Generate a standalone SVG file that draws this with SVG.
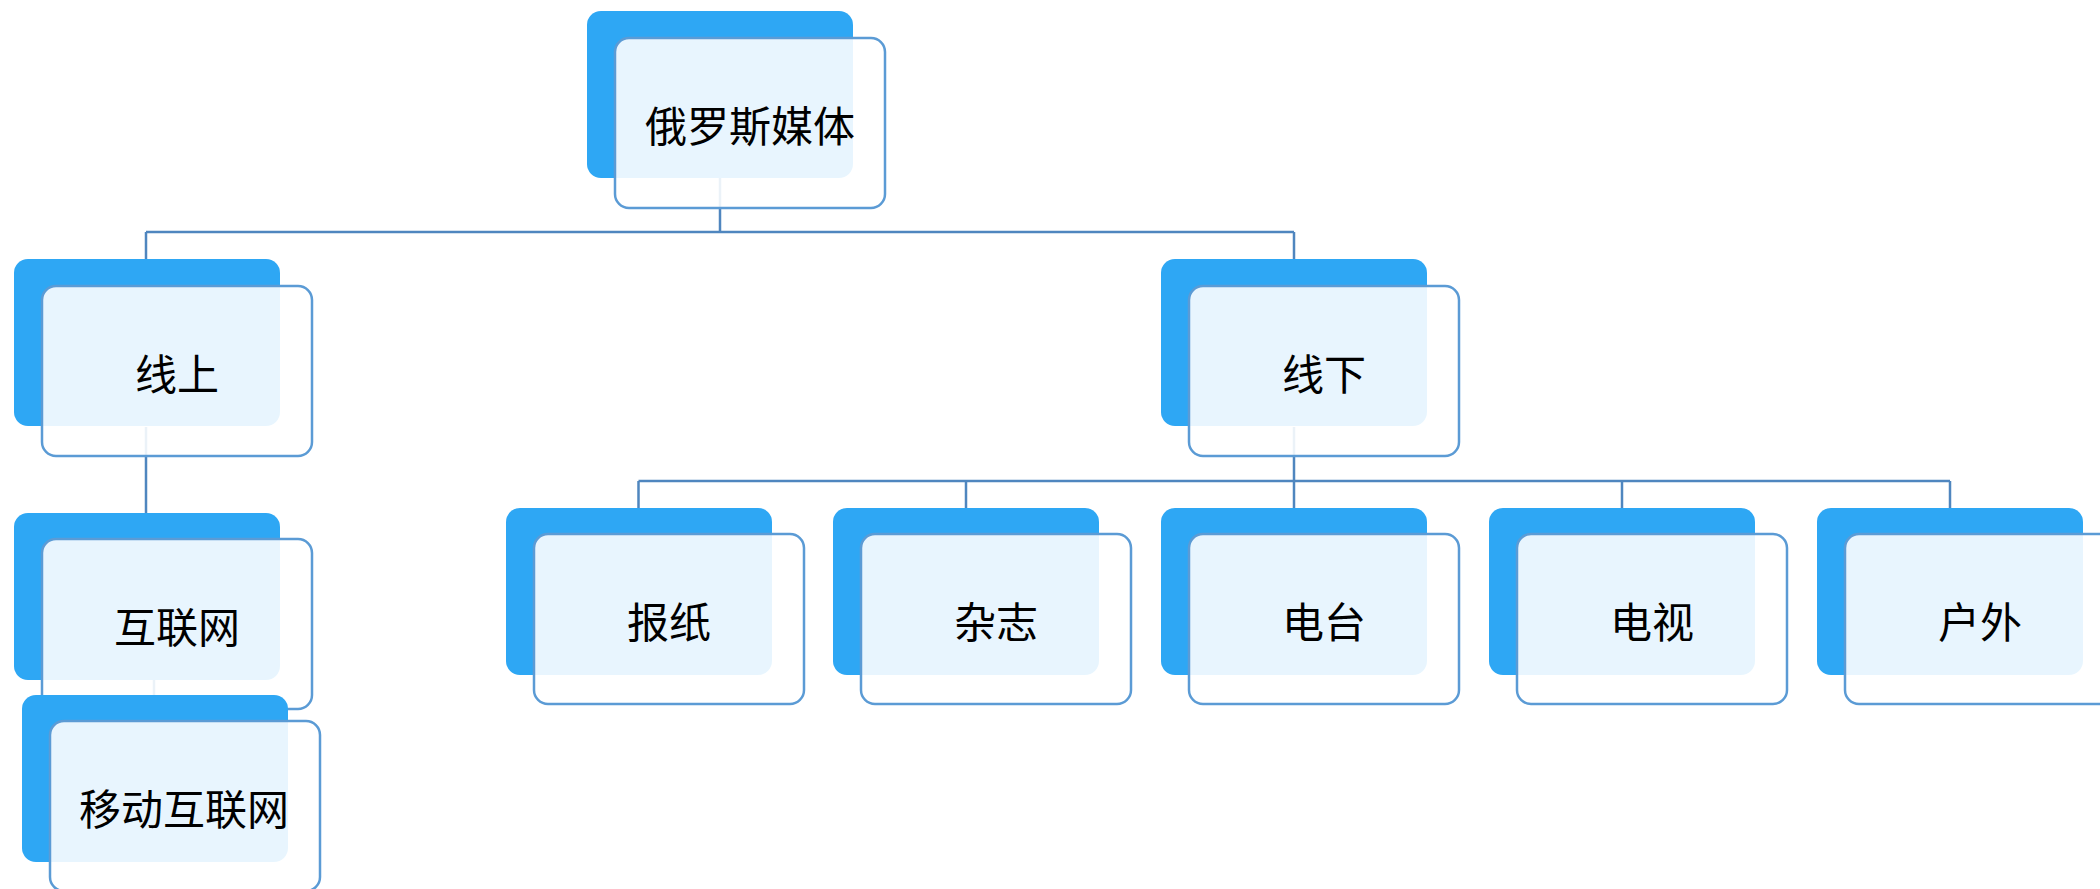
<svg xmlns="http://www.w3.org/2000/svg" width="2100" height="889" viewBox="0 0 2100 889">
<style>
.bg{fill:#2ea7f4}
.fr{fill:#ffffff;fill-opacity:0.89;stroke:#5b9bd5;stroke-width:2.5}
.t{font-family:"Noto Sans CJK SC","Microsoft YaHei",sans-serif;font-size:42px;fill:#000;text-anchor:middle;dominant-baseline:central}
.c{fill:none;stroke:#4f86bf;stroke-width:2.5}
</style>
<rect width="2100" height="889" fill="#ffffff"/>
<g id="connectors">
<path class="c" d="M720,178 V232 M146,232 H1294 M146,232 V259 M1294,232 V259"/>
<path class="c" d="M146,427 V513 M154,680 V695"/>
<path class="c" d="M1294,427 V481 M638.5,481 H1950 M638.5,481 V508 M966,481 V508 M1294,481 V508 M1622,481 V508 M1950,481 V508"/>
</g>
<g id="n-root"><rect class="bg" x="587" y="11" width="266" height="167" rx="14"/><rect class="fr" x="615" y="38" width="270" height="170" rx="14"/><text class="t" x="750" y="123">俄罗斯媒体</text></g>
<g id="n-online"><rect class="bg" x="14" y="259" width="266" height="167" rx="14"/><rect class="fr" x="42" y="286" width="270" height="170" rx="14"/><text class="t" x="177" y="371">线上</text></g>
<g id="n-offline"><rect class="bg" x="1161" y="259" width="266" height="167" rx="14"/><rect class="fr" x="1189" y="286" width="270" height="170" rx="14"/><text class="t" x="1324" y="371">线下</text></g>
<g id="n-internet"><rect class="bg" x="14" y="513" width="266" height="167" rx="14"/><rect class="fr" x="42" y="539" width="270" height="170" rx="14"/><text class="t" x="177" y="624">互联网</text></g>
<g id="n-mobile"><rect class="bg" x="22" y="695" width="266" height="167" rx="14"/><rect class="fr" x="50" y="721" width="270" height="170" rx="14"/><text class="t" x="184" y="806">移动互联网</text></g>
<g id="n-newspaper"><rect class="bg" x="506" y="508" width="266" height="167" rx="14"/><rect class="fr" x="534" y="534" width="270" height="170" rx="14"/><text class="t" x="669" y="619">报纸</text></g>
<g id="n-magazine"><rect class="bg" x="833" y="508" width="266" height="167" rx="14"/><rect class="fr" x="861" y="534" width="270" height="170" rx="14"/><text class="t" x="996" y="619">杂志</text></g>
<g id="n-radio"><rect class="bg" x="1161" y="508" width="266" height="167" rx="14"/><rect class="fr" x="1189" y="534" width="270" height="170" rx="14"/><text class="t" x="1324" y="619">电台</text></g>
<g id="n-tv"><rect class="bg" x="1489" y="508" width="266" height="167" rx="14"/><rect class="fr" x="1517" y="534" width="270" height="170" rx="14"/><text class="t" x="1652" y="619">电视</text></g>
<g id="n-outdoor"><rect class="bg" x="1817" y="508" width="266" height="167" rx="14"/><rect class="fr" x="1845" y="534" width="270" height="170" rx="14"/><text class="t" x="1980" y="619">户外</text></g>
</svg>
